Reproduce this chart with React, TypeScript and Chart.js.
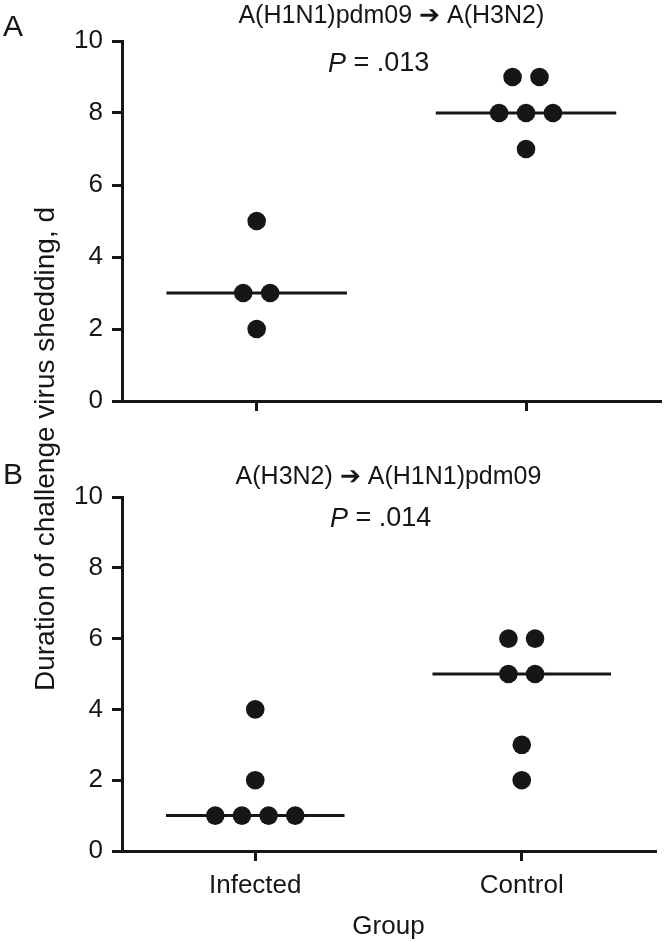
import React, { useEffect, useRef } from 'react';
import { Chart, registerables } from 'chart.js';

Chart.register(...registerables);

// ---- data ----
const groups = ['Infected', 'Control'];
const yTickValues = [0, 2, 4, 6, 8, 10];
const panelLabels = ['A', 'B'];
const panelTitles = ['A(H1N1)pdm09 \u2794 A(H3N2)', 'A(H3N2) \u2794 A(H1N1)pdm09'];
const pValues = ['.013', '.014'];
const aInfected = [5, 3, 3, 2];
const aControl = [9, 9, 8, 8, 8, 7];
const aMedians = [3, 8];
const bInfected = [4, 2, 1, 1, 1, 1];
const bControl = [6, 6, 5, 5, 3, 2];
const bMedians = [1, 5];
const yAxisTitle = 'Duration of challenge virus shedding, d';
const xAxisTitle = 'Group';

const INK = '#161616';
const FONT = '"Liberation Sans", Arial, Helvetica, sans-serif';
const W = 670;
const H = 942;

// spread tied values side by side around the group's centre (layout only)
function spread(values: number[], center: number, step = 0.1) {
  const counts: Record<number, number> = {};
  values.forEach((v) => (counts[v] = (counts[v] || 0) + 1));
  const seen: Record<number, number> = {};
  return values.map((v) => {
    const n = counts[v];
    const i = seen[v] || 0;
    seen[v] = i + 1;
    return { x: center + (i - (n - 1) / 2) * step, y: v };
  });
}

function medianLine(center: number, m: number, half = 0.335) {
  return [
    { x: center - half, y: m },
    { x: center + half, y: m },
  ];
}

const textPlugin = {
  id: 'panelText',
  afterDraw(chart: any, _args: any, opts: any) {
    const ctx = chart.ctx;
    const area = chart.chartArea;
    ctx.save();
    ctx.fillStyle = INK;
    // panel letter
    ctx.font = `30px ${FONT}`;
    ctx.textAlign = 'left';
    ctx.textBaseline = 'middle';
    ctx.fillText(opts.label, 3, opts.labelY);
    // title
    ctx.font = `25px ${FONT}`;
    ctx.textAlign = 'center';
    ctx.fillText(opts.title, (area.left + area.right) / 2, opts.titleY);
    // P value
    ctx.textAlign = 'left';
    ctx.font = `italic 27px ${FONT}`;
    ctx.fillText('P', opts.pX, opts.pY);
    const pw = ctx.measureText('P').width;
    ctx.font = `27px ${FONT}`;
    ctx.fillText(' = ' + opts.p, opts.pX + pw, opts.pY);
    // shared y-axis title
    if (opts.yTitle) {
      ctx.translate(opts.yTitleX, opts.yTitleY);
      ctx.rotate(-Math.PI / 2);
      ctx.textAlign = 'center';
      ctx.textBaseline = 'middle';
      ctx.font = `28px ${FONT}`;
      ctx.fillText(opts.yTitle, 0, 0);
    }
    ctx.restore();
  },
};

type Geo = { top: number; bottom: number; right: number };

function makeConfig(
  idx: number,
  infected: number[],
  control: number[],
  medians: number[],
  geo: Geo,
  showLabels: boolean,
  extra: any
) {
  const xHeight = showLabels ? H - geo.bottom : 30;
  const padBottom = showLabels ? 0 : H - geo.bottom - xHeight;
  const dot = {
    pointRadius: 9.3,
    pointHoverRadius: 9.3,
    pointBackgroundColor: INK,
    pointBorderColor: INK,
    pointBorderWidth: 0,
    showLine: false,
  };
  const line = {
    showLine: true,
    borderColor: INK,
    borderWidth: 3,
    pointRadius: 0,
    pointHoverRadius: 0,
    fill: false,
  };
  return {
    type: 'scatter',
    data: {
      datasets: [
        { ...line, data: medianLine(1, medians[0]) },
        { ...line, data: medianLine(2, medians[1]) },
        { ...dot, data: spread(infected, 1) },
        { ...dot, data: spread(control, 2) },
      ],
    },
    options: {
      responsive: false,
      animation: false,
      events: [],
      layout: {
        padding: { left: 0, right: W - geo.right, top: geo.top, bottom: padBottom },
      },
      plugins: {
        legend: { display: false },
        tooltip: { enabled: false },
        panelText: {
          label: panelLabels[idx],
          title: panelTitles[idx],
          p: pValues[idx],
          ...extra,
        },
      },
      scales: {
        x: {
          type: 'linear',
          min: 0.5,
          max: 2.5,
          afterBuildTicks: (s: any) => {
            s.ticks = [1, 2].map((v) => ({ value: v }));
          },
          afterFit: (s: any) => {
            s.height = xHeight;
          },
          ticks: {
            display: showLabels,
            color: INK,
            padding: 9,
            font: { family: FONT, size: 26 },
            callback: (v: any) => groups[Math.round(v) - 1] ?? '',
          },
          grid: {
            display: true,
            drawOnChartArea: false,
            drawTicks: true,
            tickLength: 10,
            lineWidth: 3,
            color: INK,
          },
          border: { display: true, color: INK, width: 3 },
          title: {
            display: showLabels,
            text: xAxisTitle,
            color: INK,
            font: { family: FONT, size: 26 },
            padding: { top: 0, bottom: 0 },
          },
        },
        y: {
          type: 'linear',
          min: 0,
          max: 10,
          afterBuildTicks: (s: any) => {
            s.ticks = yTickValues.map((v) => ({ value: v }));
          },
          afterFit: (s: any) => {
            s.width = 122;
          },
          ticks: {
            color: INK,
            padding: 9,
            font: { family: FONT, size: 26 },
          },
          grid: {
            display: true,
            drawOnChartArea: false,
            drawTicks: true,
            tickLength: 10,
            lineWidth: 3,
            color: INK,
          },
          border: { display: true, color: INK, width: 3 },
        },
      },
    },
    plugins: [textPlugin],
  };
}

export default function App() {
  const refA = useRef<HTMLCanvasElement>(null);
  const refB = useRef<HTMLCanvasElement>(null);

  useEffect(() => {
    const a = new Chart(
      refA.current as HTMLCanvasElement,
      makeConfig(0, aInfected, aControl, aMedians, { top: 41, bottom: 401, right: 668 }, false, {
        labelY: 28,
        titleY: 16,
        pX: 328,
        pY: 64,
      }) as any
    );
    const b = new Chart(
      refB.current as HTMLCanvasElement,
      makeConfig(1, bInfected, bControl, bMedians, { top: 497, bottom: 851, right: 655 }, true, {
        labelY: 476,
        titleY: 477,
        pX: 330,
        pY: 519,
        yTitle: yAxisTitle,
        yTitleX: 46,
        yTitleY: 449,
      }) as any
    );
    return () => {
      a.destroy();
      b.destroy();
    };
  }, []);

  const style: React.CSSProperties = { position: 'absolute', left: 0, top: 0, width: W, height: H };
  return (
    <div style={{ position: 'absolute', left: 0, top: 0, width: W, height: H, background: '#fff' }}>
      <canvas ref={refB} width={W} height={H} style={style} />
      <canvas ref={refA} width={W} height={H} style={style} />
    </div>
  );
}
